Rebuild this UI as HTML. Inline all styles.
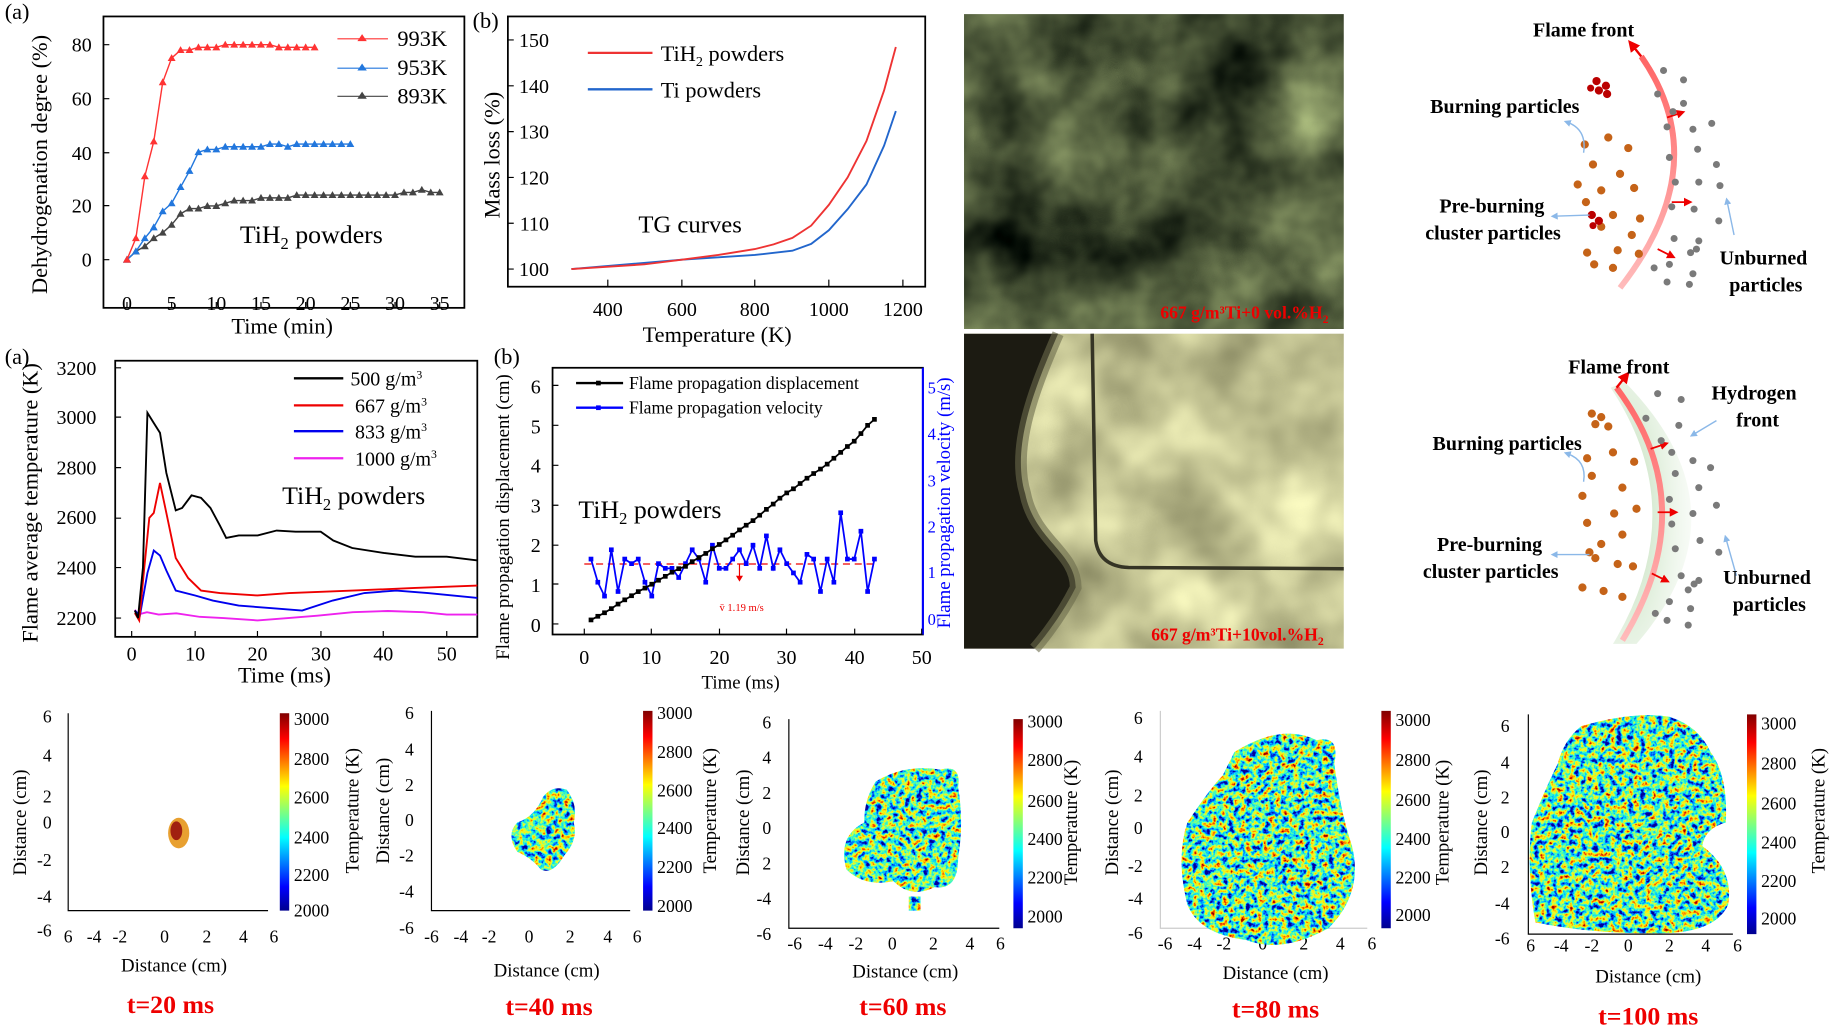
<!DOCTYPE html>
<html><head><meta charset="utf-8"><style>
html,body{margin:0;padding:0;background:#fff;width:1834px;height:1034px;overflow:hidden}
svg{display:block}
text{font-family:"Liberation Serif",serif}
.t{font-size:17px}
.lab{font-size:19px}
.b{font-weight:bold;font-size:17px}
.rt{fill:#e00;font-weight:bold}
</style></head><body>
<svg width="1834" height="1034" viewBox="0 0 1560 880" preserveAspectRatio="none" xmlns="http://www.w3.org/2000/svg">
<defs>
<marker id="tr" viewBox="-5 -5 10 10" markerWidth="7" markerHeight="7"><path d="M0,-4 L4,3 L-4,3Z" fill="#f33"/></marker>
<marker id="tb" viewBox="-5 -5 10 10" markerWidth="7" markerHeight="7"><path d="M0,-4 L4,3 L-4,3Z" fill="#2277dd"/></marker>
<marker id="tg" viewBox="-5 -5 10 10" markerWidth="7" markerHeight="7"><path d="M0,-4 L4,3 L-4,3Z" fill="#444"/></marker>
<marker id="sk" viewBox="-3 -3 6 6" markerWidth="4" markerHeight="4"><rect x="-2" y="-2" width="4" height="4" fill="#000"/></marker>
<marker id="sb" viewBox="-3 -3 6 6" markerWidth="4" markerHeight="4"><rect x="-2" y="-2" width="4" height="4" fill="#00f"/></marker>
<marker id="ar" viewBox="0 0 10 10" refX="5" refY="5" markerWidth="5" markerHeight="5" orient="auto"><path d="M0,0 L10,5 L0,10Z" fill="#e00"/></marker>
<marker id="ab" viewBox="0 0 10 10" refX="5" refY="5" markerWidth="5" markerHeight="5" orient="auto"><path d="M0,0 L10,5 L0,10Z" fill="#8bb8e8"/></marker>
<linearGradient id="jet" x1="0" y1="1" x2="0" y2="0">
<stop offset="0" stop-color="#00008f"/><stop offset=".12" stop-color="#0000ff"/><stop offset=".37" stop-color="#00ffff"/><stop offset=".5" stop-color="#7fff7f"/><stop offset=".63" stop-color="#ffff00"/><stop offset=".87" stop-color="#ff0000"/><stop offset="1" stop-color="#800000"/></linearGradient>
<filter id="nz" x="0" y="0" width="100%" height="100%" color-interpolation-filters="sRGB">
<feTurbulence type="fractalNoise" baseFrequency="0.2" numOctaves="3" seed="5" result="n"/>
<feColorMatrix in="n" type="matrix" values="1.7 0 0 0 -0.42  1.7 0 0 0 -0.42  1.7 0 0 0 -0.42  0 0 0 0 1" result="g"/>
<feComponentTransfer in="g" result="c">
<feFuncR type="table" tableValues="0 0 0 0.3 0.9 1 1 0.6"/>
<feFuncG type="table" tableValues="0 0.3 0.85 1 1 0.9 0.3 0"/>
<feFuncB type="table" tableValues="0.6 1 1 0.7 0.2 0 0 0"/>
</feComponentTransfer>
<feComposite in="c" in2="SourceGraphic" operator="in"/></filter>
<filter id="ph" x="0" y="0" width="100%" height="100%" color-interpolation-filters="sRGB">
<feTurbulence type="fractalNoise" baseFrequency="0.012" numOctaves="4" seed="8" result="n"/>
<feColorMatrix in="n" type="matrix" values="0.9 0 0 0 -0.15  0.95 0 0 0 -0.13  0.65 0 0 0 -0.1  0 0 0 0 1" result="c"/>
<feComposite in="c" in2="SourceGraphic" operator="in"/></filter>
<filter id="ph2" x="0" y="0" width="100%" height="100%" color-interpolation-filters="sRGB">
<feTurbulence type="fractalNoise" baseFrequency="0.015" numOctaves="3" seed="2" result="n"/>
<feColorMatrix in="n" type="matrix" values="0.6 0 0 0 0.47  0.6 0 0 0 0.47  0.5 0 0 0 0.33  0 0 0 0 1" result="c"/>
<feComposite in="c" in2="SourceGraphic" operator="in"/></filter>
<linearGradient id="arc" x1="0" y1="0" x2="0" y2="1"><stop offset="0" stop-color="#f66"/><stop offset="1" stop-color="#fbb"/></linearGradient>
<radialGradient id="hg" cx="0.2" cy="0.5" r="0.8"><stop offset="0" stop-color="#b9dab0"/><stop offset="1" stop-color="#e6f2e2" stop-opacity="0.3"/></radialGradient>
<clipPath id="p3"><rect x="98" y="307" width="308" height="235"/></clipPath>
</defs>

<!-- Panel 1 -->
<text x="4" y="16" class="lab">(a)</text>
<rect x="88" y="14" width="307" height="248" fill="none" stroke="#000" stroke-width="1.5"/>
<g class="t" text-anchor="end">
<text x="78" y="44">80</text><text x="78" y="90">60</text><text x="78" y="136">40</text><text x="78" y="181">20</text><text x="78" y="227">0</text></g>
<g stroke="#000"><path d="M88,38h5M88,84h5M88,130h5M88,175h5M88,221h5"/>
<path d="M108,262v-5M146,262v-5M184,262v-5M222,262v-5M260,262v-5M298,262v-5M336,262v-5M374,262v-5"/></g>
<g class="t" text-anchor="middle"><text x="108" y="264">0</text><text x="146" y="264">5</text><text x="184" y="264">10</text><text x="222" y="264">15</text><text x="260" y="264">20</text><text x="298" y="264">25</text><text x="336" y="264">30</text><text x="374" y="264">35</text></g>
<text x="240" y="284" class="lab" text-anchor="middle">Time (min)</text>
<text transform="translate(40,140) rotate(-90)" class="lab" text-anchor="middle">Dehydrogenation degree (%)</text>
<polyline fill="none" stroke="#444" stroke-width="1.2" marker-start="url(#tg)" marker-mid="url(#tg)" marker-end="url(#tg)" points="108,221 115.6,214 123.2,209.6 130.8,202.7 138.4,198 146,191.3 153.6,182 161.2,177.5 168.8,177.5 176.4,175.3 184,175.3 191.6,173 199.2,170.7 206.8,170.7 214.4,170.7 222,168.4 229.6,168.4 237.2,168.4 244.8,168.4 252.4,166 260,166 267.6,166 275.2,166 282.8,166 290.4,166 298,166 305.6,166 313.2,166 320.8,166 328.4,166 336,166 343.6,163.8 351.2,163.8 358.8,161.5 366.4,163.8 374,163.8"/>
<polyline fill="none" stroke="#2277dd" stroke-width="1.2" marker-start="url(#tb)" marker-mid="url(#tb)" marker-end="url(#tb)" points="108,221 115.6,214 123.2,202.7 130.8,193.5 138.4,179.8 146,173 153.6,159.2 161.2,145.5 168.8,129.5 176.4,127.2 184,127.2 191.6,124.9 199.2,124.9 206.8,124.9 214.4,124.9 222,124.9 229.6,122.6 237.2,122.6 244.8,124.9 252.4,122.6 260,122.6 267.6,122.6 275.2,122.6 282.8,122.6 290.4,122.6 298,122.6"/>
<polyline fill="none" stroke="#f33" stroke-width="1.2" marker-start="url(#tr)" marker-mid="url(#tr)" marker-end="url(#tr)" points="108,221 115.6,202.7 123.2,150 130.8,120.4 138.4,70 146,49.4 153.6,42.6 161.2,42.6 168.8,40.3 176.4,40.3 184,40.3 191.6,38 199.2,38 206.8,38 214.4,38 222,38 229.6,38 237.2,40.3 244.8,40.3 252.4,40.3 260,40.3 267.6,40.3"/>
<line x1="287" y1="33" x2="330" y2="33" stroke="#f33"/><path d="M308,29 l4,6 h-8z" fill="#f33"/>
<line x1="287" y1="58" x2="330" y2="58" stroke="#2277dd"/><path d="M308,54 l4,6 h-8z" fill="#2277dd"/>
<line x1="287" y1="82" x2="330" y2="82" stroke="#444"/><path d="M308,78 l4,6 h-8z" fill="#444"/>
<g class="lab"><text x="338" y="39">993K</text><text x="338" y="64">953K</text><text x="338" y="88">893K</text></g>
<text x="204" y="207" style="font-size:22px">TiH<tspan dy="5" style="font-size:14px">2</tspan><tspan dy="-5"> powders</tspan></text>

<!-- Panel 2 -->
<text x="402" y="24" class="lab">(b)</text>
<rect x="432" y="14" width="355" height="230" fill="none" stroke="#000" stroke-width="1.5"/>
<g class="t" text-anchor="end"><text x="467" y="40">150</text><text x="467" y="79">140</text><text x="467" y="118">130</text><text x="467" y="157">120</text><text x="467" y="196">110</text><text x="467" y="235">100</text></g>
<g stroke="#000"><path d="M432,34h5M432,73h5M432,112h5M432,151h5M432,190h5M432,229h5M517,244v-6M580,244v-6M642,244v-6M705,244v-6M768,244v-6"/></g>
<g class="t" text-anchor="middle"><text x="517" y="269">400</text><text x="580" y="269">600</text><text x="642" y="269">800</text><text x="705" y="269">1000</text><text x="768" y="269">1200</text></g>
<text x="610" y="291" class="lab" text-anchor="middle">Temperature (K)</text>
<text transform="translate(425,132) rotate(-90)" class="lab" text-anchor="middle">Mass loss (%)</text>
<polyline fill="none" stroke="#2266cc" stroke-width="1.6" points="486,229 580,221 642,217 674,213.4 690,207.6 705,196 721,178 737,157 752,124 762,94.5"/>
<polyline fill="none" stroke="#ee3333" stroke-width="1.6" points="486,229 548,225 580,221 611,217 642,212 658,208 674,202.5 690,192 705,174.4 721,151 737,120 752,77 762,40"/>
<line x1="500" y1="45" x2="555" y2="45" stroke="#ee3333" stroke-width="2"/>
<line x1="500" y1="76" x2="555" y2="76" stroke="#2266cc" stroke-width="2"/>
<text x="562" y="52" class="lab">TiH<tspan dy="4" style="font-size:12px">2</tspan><tspan dy="-4"> powders</tspan></text>
<text x="562" y="83" class="lab">Ti powders</text>
<text x="543" y="198" style="font-size:21px">TG curves</text>

<!-- Panel 3 -->
<text x="4" y="310" class="lab">(a)</text>
<rect x="98" y="307" width="308" height="235" fill="none" stroke="#000" stroke-width="1.5"/>
<g class="t" text-anchor="end"><text x="82" y="319">3200</text><text x="82" y="361">3000</text><text x="82" y="404">2800</text><text x="82" y="446">2600</text><text x="82" y="489">2400</text><text x="82" y="532">2200</text></g>
<g stroke="#000"><path d="M98,313h5M98,355h5M98,398h5M98,441h5M98,483h5M98,526h5M112,542v-5M166,542v-5M219,542v-5M273,542v-5M326,542v-5M380,542v-5"/></g>
<g class="t" text-anchor="middle"><text x="112" y="562">0</text><text x="166" y="562">10</text><text x="219" y="562">20</text><text x="273" y="562">30</text><text x="326" y="562">40</text><text x="380" y="562">50</text></g>
<text x="242" y="581" class="lab" text-anchor="middle">Time (ms)</text>
<text transform="translate(32,428) rotate(-90)" class="lab" text-anchor="middle">Flame average temperature (K)</text>
<g clip-path="url(#p3)" fill="none" stroke-width="1.6">
<polyline stroke="#ee22ee" points="114.7,519 117.4,523 125,521 135,523 150,522 170,525 190,526 219,528 245,526 270,524 300,521 330,520 360,521 380,523 407,523"/>
<polyline stroke="#0000ee" points="114.7,519.6 119,523.9 125.4,487.7 130.8,468.5 136.1,472.8 141.5,485.5 149.5,502.6 166,506.8 181,511.1 203,515.4 230,517.5 257,519.6 283,511.1 310,504.7 337,502.6 364,504.7 407,509"/>
<polyline stroke="#ee0000" points="114.7,521.7 118.4,528 122.7,483.4 127,440.8 130.8,436.5 136.1,411 141.5,436.5 149.5,474.9 160,491.9 171,502.6 187,504.7 219,506.8 246,504.7 300,502.6 353,500.4 407,498.3"/>
<polyline stroke="#000" points="114.7,519.6 117.4,526 121.6,483 125.4,351.3 130.8,360 136.1,368.4 141.5,402.5 149.5,434.4 154.9,432.3 162.9,421.6 171,423.7 179,432.3 187,447.2 192.4,457.8 203.1,455.7 219.2,455.7 235.3,451.5 251.4,452.5 272.8,452.5 283.5,460 299.6,466.4 326.4,470.6 353.2,473.8 380,473.8 406.8,477"/>
</g>
<line x1="250" y1="322" x2="292" y2="322" stroke="#000" stroke-width="2"/>
<line x1="250" y1="345" x2="292" y2="345" stroke="#e00" stroke-width="2"/>
<line x1="250" y1="367" x2="292" y2="367" stroke="#00e" stroke-width="2"/>
<line x1="250" y1="390" x2="292" y2="390" stroke="#e2e" stroke-width="2"/>
<g class="t"><text x="298" y="328">500 g/m<tspan dy="-6" style="font-size:10px">3</tspan></text><text x="302" y="351">667 g/m<tspan dy="-6" style="font-size:10px">3</tspan></text><text x="302" y="373">833 g/m<tspan dy="-6" style="font-size:10px">3</tspan></text><text x="302" y="396">1000 g/m<tspan dy="-6" style="font-size:10px">3</tspan></text></g>
<text x="240" y="429" style="font-size:22px">TiH<tspan dy="5" style="font-size:14px">2</tspan><tspan dy="-5"> powders</tspan></text>

<!-- Panel 4 -->
<text x="420" y="310" class="lab">(b)</text>
<rect x="470" y="313" width="315" height="227" fill="none" stroke="#000" stroke-width="1.5"/>
<line x1="785" y1="313" x2="785" y2="540" stroke="#00f" stroke-width="1.8"/>
<g class="t" text-anchor="end"><text x="460" y="335">6</text><text x="460" y="369">5</text><text x="460" y="402">4</text><text x="460" y="436">3</text><text x="460" y="470">2</text><text x="460" y="504">1</text><text x="460" y="538">0</text></g>
<g style="font-size:14px;fill:#00f"><text x="789" y="335">5</text><text x="789" y="374">4</text><text x="789" y="414">3</text><text x="789" y="453">2</text><text x="789" y="492">1</text><text x="789" y="532">0</text></g>
<g stroke="#000"><path d="M470,328h5M470,362h5M470,396h5M470,430h5M470,464h5M470,497h5M470,531h5M497,540v-5M554,540v-5M612,540v-5M669,540v-5M727,540v-5M784,540v-5"/></g>
<g class="t" text-anchor="middle"><text x="497" y="565">0</text><text x="554" y="565">10</text><text x="612" y="565">20</text><text x="669" y="565">30</text><text x="727" y="565">40</text><text x="784" y="565">50</text></g>
<text x="630" y="586" style="font-size:16px" text-anchor="middle">Time  (ms)</text>
<text transform="translate(433,440) rotate(-90)" style="font-size:16px" text-anchor="middle">Flame propagation displacement (cm)</text>
<text transform="translate(808,428) rotate(-90)" style="font-size:16px;fill:#00f" text-anchor="middle">Flame propagation velocity (m/s)</text>
<line x1="497" y1="480" x2="745" y2="480" stroke="#e00" stroke-dasharray="6,4" stroke-width="1"/>
<polyline fill="none" stroke="#00f" stroke-width="1.5" marker-start="url(#sb)" marker-mid="url(#sb)" marker-end="url(#sb)" points="502.7,475.8 508.5,495.5 514.2,507.3 520,467.9 525.7,503.4 531.4,475.8 537.2,479.7 542.9,475.8 548.6,495.5 554.4,507.3 560.1,479.7 565.9,483.7 571.6,483.7 577.3,491.5 583.1,479.7 588.8,467.9 594.5,475.8 600.3,495.5 606,464 611.8,483.7 617.5,483.7 623.2,475.8 629,467.9 634.7,479.7 640.5,464 646.2,483.7 651.9,456.1 657.7,483.7 663.4,467.9 669.2,479.7 674.9,487.6 680.6,495.5 686.4,471.8 692.1,475.8 697.9,503.4 703.6,475.8 709.3,495.5 715.1,436.4 720.8,475.8 726.6,475.8 732.3,452.1 738,503.4 743.8,475.8"/>
<polyline fill="none" stroke="#000" stroke-width="1.5" marker-start="url(#sk)" marker-mid="url(#sk)" marker-end="url(#sk)" points="502.7,527.6 508.5,524.5 514.2,521.5 520,518 525.7,514.1 531.4,510.5 537.2,507 542.9,503.5 548.6,500.5 554.4,497.2 560.1,493.8 565.9,490.5 571.6,487 577.3,484 583.1,482 588.8,478 594.5,474.5 600.3,471 606,467 611.8,463.4 617.5,459.5 623.2,455.5 629,451 634.7,447 640.5,443.1 646.2,438.5 651.9,433.5 657.7,429 663.4,424 669.2,419.5 674.9,416 680.6,411.5 686.4,407 692.1,403 697.9,399.2 703.6,395 709.3,390 715.1,385 720.8,380 726.6,375.5 732.3,369 738,362 743.8,356.9"/>
<line x1="629" y1="480" x2="629" y2="492" stroke="#e00"/><path d="M626,490 l3,5 l3,-5z" fill="#e00"/>
<text x="612" y="520" style="font-size:9px;fill:#e00">v̄     1.19 m/s</text>
<line x1="490" y1="326" x2="530" y2="326" stroke="#000" stroke-width="2"/><rect x="507" y="324" width="4" height="4"/>
<line x1="490" y1="347" x2="530" y2="347" stroke="#00f" stroke-width="2"/><rect x="507" y="345" width="4" height="4" fill="#00f"/>
<g style="font-size:15px"><text x="535" y="331">Flame propagation displacement</text><text x="535" y="352">Flame propagation velocity</text></g>
<text x="492" y="441" style="font-size:22px">TiH<tspan dy="5" style="font-size:14px">2</tspan><tspan dy="-5"> powders</tspan></text>

<!-- Photos -->
<rect x="820" y="12" width="323" height="268" fill="#fff" filter="url(#ph)"/>
<text x="1130" y="271" class="rt" text-anchor="end" style="font-size:15px">667 g/m³Ti+0 vol.%H<tspan dy="4" style="font-size:10px">2</tspan></text>
<rect x="820" y="284" width="323" height="268" fill="#fff" filter="url(#ph2)"/>
<path d="M820,284 L900,284 C880,330 860,380 872,420 C880,460 915,470 915,500 C900,530 880,552 880,552 L820,552Z" fill="#1c1b12"/>
<path d="M900,284 C880,330 860,380 872,420 C880,460 915,470 915,500 C900,530 880,552 880,552" fill="none" stroke="#6b6a4b" stroke-width="10" opacity=".6"/>
<path d="M929,284 L932,460 Q935,482 960,483 L1143,484" fill="none" stroke="#353425" stroke-width="3"/>
<text x="1126" y="545" class="rt" text-anchor="end" style="font-size:15px">667 g/m³Ti+10vol.%H<tspan dy="4" style="font-size:10px">2</tspan></text>

<!-- Schematic top -->
<path d="M1396,48 Q1460,140 1378,245" fill="none" stroke="url(#arc)" stroke-width="5"/>
<path d="M1396,48 l-8,-10" stroke="#e00" stroke-width="2" marker-end="url(#ar)"/>
<g stroke="#e00" stroke-width="1.5" marker-end="url(#ar)"><path d="M1418,100 l12,-4"/><path d="M1422,172 l14,0"/><path d="M1410,212 l12,6"/></g>
<g fill="#c56318"><circle cx="1348" cy="123" r="3.5"/><circle cx="1368" cy="117" r="3.5"/><circle cx="1385" cy="126" r="3.5"/><circle cx="1355" cy="140" r="3.5"/><circle cx="1378" cy="148" r="3.5"/><circle cx="1342" cy="157" r="3.5"/><circle cx="1362" cy="162" r="3.5"/><circle cx="1390" cy="160" r="3.5"/><circle cx="1349" cy="172" r="3.5"/><circle cx="1372" cy="183" r="3.5"/><circle cx="1395" cy="186" r="3.5"/><circle cx="1362" cy="193" r="3.5"/><circle cx="1388" cy="200" r="3.5"/><circle cx="1376" cy="213" r="3.5"/><circle cx="1394" cy="216" r="3.5"/><circle cx="1350" cy="215" r="3.5"/><circle cx="1372" cy="228" r="3.5"/><circle cx="1356" cy="225" r="3.5"/></g>
<g fill="#b00"><circle cx="1358" cy="69" r="3.5"/><circle cx="1366" cy="73" r="3.5"/><circle cx="1360" cy="77" r="3.5"/><circle cx="1367" cy="80" r="3.5"/><circle cx="1353" cy="75" r="3"/><circle cx="1354" cy="183" r="3.5"/><circle cx="1360" cy="188" r="3.5"/><circle cx="1355" cy="192" r="3"/></g>
<g fill="#7a7a7a"><circle cx="1415" cy="60" r="3"/><circle cx="1432" cy="68" r="3"/><circle cx="1410" cy="80" r="3"/><circle cx="1432" cy="88" r="3"/><circle cx="1423" cy="95" r="3"/><circle cx="1418" cy="108" r="3"/><circle cx="1440" cy="110" r="3"/><circle cx="1456" cy="105" r="3"/><circle cx="1444" cy="127" r="3"/><circle cx="1420" cy="134" r="3"/><circle cx="1460" cy="140" r="3"/><circle cx="1425" cy="155" r="3"/><circle cx="1445" cy="155" r="3"/><circle cx="1463" cy="158" r="3"/><circle cx="1422" cy="176" r="3"/><circle cx="1441" cy="178" r="3"/><circle cx="1462" cy="188" r="3"/><circle cx="1424" cy="203" r="3"/><circle cx="1445" cy="205" r="3"/><circle cx="1438" cy="215" r="3"/><circle cx="1443" cy="212" r="3"/><circle cx="1420" cy="225" r="3"/><circle cx="1440" cy="233" r="3"/><circle cx="1418" cy="240" r="3"/><circle cx="1437" cy="242" r="3"/><circle cx="1407" cy="228" r="3"/></g>
<g stroke="#8bb8e8" stroke-width="1.2" fill="none" marker-end="url(#ab)"><path d="M1347,130 Q1350,110 1333,104"/><path d="M1352,183 L1322,184"/><path d="M1475,200 L1469,171"/></g>
<g class="b"><text x="1347" y="31" text-anchor="middle">Flame front</text><text x="1280" y="96" text-anchor="middle">Burning particles</text><text x="1269" y="181" text-anchor="middle">Pre-burning</text><text x="1270" y="204" text-anchor="middle">cluster particles</text><text x="1500" y="225" text-anchor="middle">Unburned</text><text x="1502" y="248" text-anchor="middle">particles</text></g>

<!-- Schematic bottom -->
<path d="M1382,325 Q1490,435 1392,548 L1372,548 Q1440,435 1370,330Z" fill="url(#hg)"/>
<path d="M1375,330 Q1450,430 1380,545" fill="none" stroke="url(#arc)" stroke-width="5"/>
<path d="M1375,330 l8,-10" stroke="#e00" stroke-width="2" marker-end="url(#ar)"/>
<g stroke="#e00" stroke-width="1.5" marker-end="url(#ar)"><path d="M1404,382 l12,-4"/><path d="M1410,436 l14,0"/><path d="M1405,488 l12,6"/></g>
<g fill="#c56318"><circle cx="1354" cy="352" r="3.5"/><circle cx="1362" cy="355" r="3.5"/><circle cx="1357" cy="361" r="3.5"/><circle cx="1368" cy="363" r="3.5"/><circle cx="1350" cy="390" r="3.5"/><circle cx="1372" cy="385" r="3.5"/><circle cx="1390" cy="393" r="3.5"/><circle cx="1354" cy="405" r="3.5"/><circle cx="1380" cy="415" r="3.5"/><circle cx="1346" cy="422" r="3.5"/><circle cx="1373" cy="437" r="3.5"/><circle cx="1392" cy="433" r="3.5"/><circle cx="1350" cy="445" r="3.5"/><circle cx="1380" cy="455" r="3.5"/><circle cx="1362" cy="463" r="3.5"/><circle cx="1352" cy="470" r="3.5"/><circle cx="1357" cy="475" r="3.5"/><circle cx="1376" cy="480" r="3.5"/><circle cx="1389" cy="482" r="3.5"/><circle cx="1346" cy="500" r="3.5"/><circle cx="1364" cy="503" r="3.5"/><circle cx="1380" cy="508" r="3.5"/></g>
<g fill="#7a7a7a"><circle cx="1410" cy="335" r="3"/><circle cx="1430" cy="340" r="3"/><circle cx="1400" cy="356" r="3"/><circle cx="1428" cy="362" r="3"/><circle cx="1413" cy="375" r="3"/><circle cx="1422" cy="385" r="3"/><circle cx="1440" cy="392" r="3"/><circle cx="1455" cy="398" r="3"/><circle cx="1425" cy="403" r="3"/><circle cx="1445" cy="415" r="3"/><circle cx="1420" cy="425" r="3"/><circle cx="1460" cy="430" r="3"/><circle cx="1440" cy="437" r="3"/><circle cx="1422" cy="446" r="3"/><circle cx="1446" cy="460" r="3"/><circle cx="1425" cy="467" r="3"/><circle cx="1462" cy="470" r="3"/><circle cx="1430" cy="490" r="3"/><circle cx="1445" cy="494" r="3"/><circle cx="1436" cy="502" r="3"/><circle cx="1441" cy="497" r="3"/><circle cx="1420" cy="512" r="3"/><circle cx="1438" cy="518" r="3"/><circle cx="1418" cy="528" r="3"/><circle cx="1436" cy="532" r="3"/><circle cx="1408" cy="522" r="3"/></g>
<g stroke="#8bb8e8" stroke-width="1.2" fill="none" marker-end="url(#ab)"><path d="M1347,410 Q1350,392 1333,386"/><path d="M1352,472 L1322,472"/><path d="M1477,490 L1468,458"/><path d="M1460,358 L1440,370"/></g>
<g class="b"><text x="1377" y="318" text-anchor="middle">Flame front</text><text x="1492" y="340" text-anchor="middle">Hydrogen</text><text x="1495" y="363" text-anchor="middle">front</text><text x="1282" y="383" text-anchor="middle">Burning particles</text><text x="1267" y="469" text-anchor="middle">Pre-burning</text><text x="1268" y="492" text-anchor="middle">cluster particles</text><text x="1503" y="497" text-anchor="middle">Unburned</text><text x="1505" y="520" text-anchor="middle">particles</text></g>

<!-- Heatmaps -->
<g style="font-size:15px">
<path d="M58,607V775H228" fill="none" stroke="#000"/>
<rect x="238" y="607" width="8" height="168" fill="url(#jet)"/>
<g text-anchor="start"><text x="250" y="617">3000</text><text x="250" y="651">2800</text><text x="250" y="684">2600</text><text x="250" y="718">2400</text><text x="250" y="750">2200</text><text x="250" y="780">2000</text></g>
<text transform="translate(305,690) rotate(-90)" text-anchor="middle" style="font-size:16px">Temperature (K)</text>
<g text-anchor="end"><text x="44" y="615">6</text><text x="44" y="648">4</text><text x="44" y="683">2</text><text x="44" y="705">0</text><text x="44" y="737">-2</text><text x="44" y="768">-4</text><text x="44" y="797">-6</text></g>
<text transform="translate(22,700) rotate(-90)" text-anchor="middle" style="font-size:16px">Distance (cm)</text>
<g text-anchor="middle"><text x="58" y="802">6</text><text x="80" y="802">-4</text><text x="102" y="802">-2</text><text x="140" y="802">0</text><text x="176" y="802">2</text><text x="207" y="802">4</text><text x="233" y="802">6</text></g>
<text x="148" y="827" text-anchor="middle" style="font-size:16px">Distance (cm)</text>
<ellipse cx="152" cy="709" rx="9" ry="13" fill="#e8a030"/>
<ellipse cx="150" cy="707" rx="5" ry="8" fill="#a02010"/>
<path d="M367,605V775H536" fill="none" stroke="#000"/>
<rect x="547" y="605" width="8" height="170" fill="url(#jet)"/>
<g><text x="559" y="612">3000</text><text x="559" y="645">2800</text><text x="559" y="678">2600</text><text x="559" y="710">2400</text><text x="559" y="743">2200</text><text x="559" y="776">2000</text></g>
<text transform="translate(609,690) rotate(-90)" text-anchor="middle" style="font-size:16px">Temperature (K)</text>
<g text-anchor="end"><text x="352" y="612">6</text><text x="352" y="643">4</text><text x="352" y="673">2</text><text x="352" y="703">0</text><text x="352" y="733">-2</text><text x="352" y="764">-4</text><text x="352" y="795">-6</text></g>
<text transform="translate(331,690) rotate(-90)" text-anchor="middle" style="font-size:16px">Distance (cm)</text>
<g text-anchor="middle"><text x="367" y="802">-6</text><text x="392" y="802">-4</text><text x="416" y="802">-2</text><text x="450" y="802">0</text><text x="485" y="802">2</text><text x="517" y="802">4</text><text x="542" y="802">6</text></g>
<text x="465" y="831" text-anchor="middle" style="font-size:16px">Distance (cm)</text>
<path d="M462,678 Q470,668 482,672 Q492,685 488,700 Q492,715 480,728 Q470,745 460,740 Q452,730 440,725 Q430,710 440,700 Q455,695 462,678Z" fill="#fff" filter="url(#nz)"/>
<path d="M671,612V790H850" fill="none" stroke="#000"/>
<rect x="862" y="612" width="8" height="178" fill="url(#jet)"/>
<g><text x="874" y="619">3000</text><text x="874" y="652">2800</text><text x="874" y="687">2600</text><text x="874" y="719">2400</text><text x="874" y="752">2200</text><text x="874" y="785">2000</text></g>
<text transform="translate(916,700) rotate(-90)" text-anchor="middle" style="font-size:16px">Temperature (K)</text>
<g text-anchor="end"><text x="656" y="620">6</text><text x="656" y="650">4</text><text x="656" y="680">2</text><text x="656" y="710">0</text><text x="656" y="740">2</text><text x="656" y="770">-4</text><text x="656" y="800">-6</text></g>
<text transform="translate(637,700) rotate(-90)" text-anchor="middle" style="font-size:16px">Distance (cm)</text>
<g text-anchor="middle"><text x="676" y="808">-6</text><text x="702" y="808">-4</text><text x="728" y="808">-2</text><text x="759" y="808">0</text><text x="794" y="808">2</text><text x="825" y="808">4</text><text x="851" y="808">6</text></g>
<text x="770" y="832" text-anchor="middle" style="font-size:16px">Distance (cm)</text>
<path d="M745,665 Q770,650 800,655 Q818,650 815,670 Q820,700 815,730 Q815,758 795,755 Q775,765 760,750 Q735,755 720,740 Q712,712 735,700 Q735,680 745,665Z M773,763 h10 v12 h-10z" fill="#fff" filter="url(#nz)"/>
<path d="M987,605V790H1163" fill="none" stroke="#ccc"/>
<rect x="1175" y="605" width="8" height="185" fill="url(#jet)"/>
<g><text x="1187" y="618">3000</text><text x="1187" y="652">2800</text><text x="1187" y="686">2600</text><text x="1187" y="719">2400</text><text x="1187" y="752">2200</text><text x="1187" y="784">2000</text></g>
<text transform="translate(1232,700) rotate(-90)" text-anchor="middle" style="font-size:16px">Temperature (K)</text>
<g text-anchor="end"><text x="972" y="616">6</text><text x="972" y="649">4</text><text x="972" y="682">2</text><text x="972" y="710">0</text><text x="972" y="742">-2</text><text x="972" y="770">-4</text><text x="972" y="799">-6</text></g>
<text transform="translate(951,700) rotate(-90)" text-anchor="middle" style="font-size:16px">Distance (cm)</text>
<g text-anchor="middle"><text x="991" y="808">-6</text><text x="1016" y="808">-4</text><text x="1041" y="808">-2</text><text x="1074" y="808">0</text><text x="1109" y="808">2</text><text x="1140" y="808">4</text><text x="1167" y="808">6</text></g>
<text x="1085" y="833" text-anchor="middle" style="font-size:16px">Distance (cm)</text>
<path d="M1050,640 Q1090,615 1120,630 Q1140,625 1135,650 Q1140,690 1150,720 Q1160,760 1130,790 Q1090,812 1060,800 Q1020,795 1010,770 Q1000,730 1010,700 Q1030,670 1040,660Z" fill="#fff" filter="url(#nz)"/>
<path d="M1300,608V795H1474" fill="none" stroke="#000"/>
<rect x="1486" y="608" width="8" height="187" fill="url(#jet)"/>
<g><text x="1498" y="621">3000</text><text x="1498" y="655">2800</text><text x="1498" y="689">2600</text><text x="1498" y="722">2400</text><text x="1498" y="755">2200</text><text x="1498" y="787">2000</text></g>
<text transform="translate(1552,690) rotate(-90)" text-anchor="middle" style="font-size:16px">Temperature (K)</text>
<g text-anchor="end"><text x="1284" y="623">6</text><text x="1284" y="654">4</text><text x="1284" y="684">2</text><text x="1284" y="713">0</text><text x="1284" y="743">2</text><text x="1284" y="774">-4</text><text x="1284" y="804">-6</text></g>
<text transform="translate(1265,700) rotate(-90)" text-anchor="middle" style="font-size:16px">Distance (cm)</text>
<g text-anchor="middle"><text x="1302" y="810">6</text><text x="1328" y="810">-4</text><text x="1354" y="810">-2</text><text x="1385" y="810">0</text><text x="1420" y="810">2</text><text x="1451" y="810">4</text><text x="1478" y="810">6</text></g>
<text x="1402" y="836" text-anchor="middle" style="font-size:16px">Distance (cm)</text>
<path d="M1345,618 Q1390,605 1420,610 Q1445,618 1455,640 Q1470,660 1468,700 Q1450,705 1448,720 Q1475,740 1470,770 Q1460,792 1420,794 Q1360,796 1306,785 Q1298,740 1303,700 Q1315,670 1325,650 Q1330,630 1345,618Z" fill="#fff" filter="url(#nz)"/>
</g>
<g style="font-size:22px;font-weight:bold;fill:#e00" text-anchor="middle">
<text x="145" y="862">t=20 ms</text><text x="467" y="864">t=40 ms</text><text x="768" y="864">t=60 ms</text><text x="1085" y="866">t=80 ms</text><text x="1402" y="872">t=100 ms</text></g>
</svg>
</body></html>
